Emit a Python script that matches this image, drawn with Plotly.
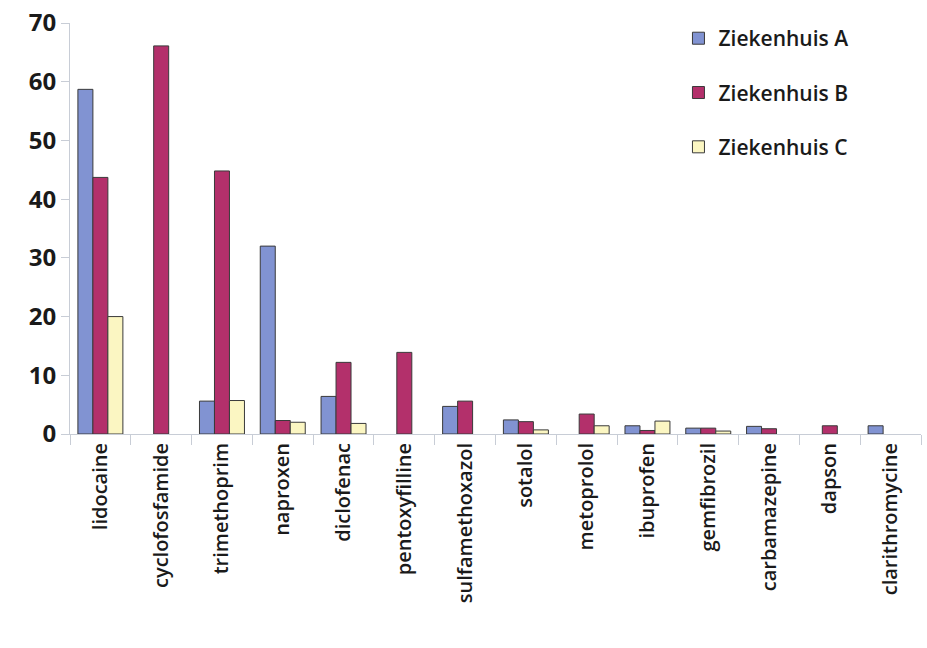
import plotly.graph_objects as go

categories = ["lidocaine", "cyclofosfamide", "trimethoprim", "naproxen", "diclofenac",
              "pentoxyfilline", "sulfamethoxazol", "sotalol", "metoprolol", "ibuprofen",
              "gemfibrozil", "carbamazepine", "dapson", "clarithromycine"]
ziekenhuis_a = [58.7, None, 5.6, 32.0, 6.4, None, 4.7, 2.4, None, 1.4, 1.0, 1.3, None, 1.4]
ziekenhuis_b = [43.7, 66.1, 44.8, 2.3, 12.2, 13.9, 5.6, 2.1, 3.4, 0.6, 1.0, 0.9, 1.4, None]
ziekenhuis_c = [20.0, None, 5.7, 2.0, 1.8, None, None, 0.7, 1.4, 2.2, 0.5, None, None, None]
series_names = ["Ziekenhuis A", "Ziekenhuis B", "Ziekenhuis C"]
colors = ["#8193d2", "#b3306b", "#fbf6c2"]

fig = go.Figure()
for i, (name, vals, col) in enumerate(zip(series_names, [ziekenhuis_a, ziekenhuis_b, ziekenhuis_c], colors)):
    fig.add_trace(go.Bar(
        x=categories, y=vals, name=name, legendgroup=name,
        marker=dict(color=col, line=dict(color="#3a3a3a", width=1)),
    ))

fig.update_layout(
    width=927, height=648,
    margin=dict(l=70, r=6, t=23, b=214),
    paper_bgcolor="white", plot_bgcolor="white",
    barmode="group", bargap=0.26, bargroupgap=0,
    font=dict(family="Open Sans", color="#1a1a1a"),
    legend=dict(x=0.715, y=1.012, xanchor="left", yanchor="top",
                font=dict(size=21, family="Open Sans", weight=600),
                tracegroupgap=24, itemwidth=30, bgcolor="rgba(0,0,0,0)"),
    xaxis=dict(
        tickangle=-90, tickfont=dict(size=20, family="Open Sans", weight=600),
        showline=True, linecolor="#c8cdd6", linewidth=1,
        ticks="outside", ticklen=10, tickcolor="#c8cdd6", tickson="boundaries",
        showgrid=False,
    ),
    yaxis=dict(
        range=[0, 70], dtick=10,
        tickfont=dict(size=24, family="Open Sans", weight=700),
        showline=True, linecolor="#c8cdd6", linewidth=1,
        ticks="outside", ticklen=8, tickcolor="#c8cdd6",
        showgrid=False, zeroline=False,
    ),
)

fig.write_html("out.html")
